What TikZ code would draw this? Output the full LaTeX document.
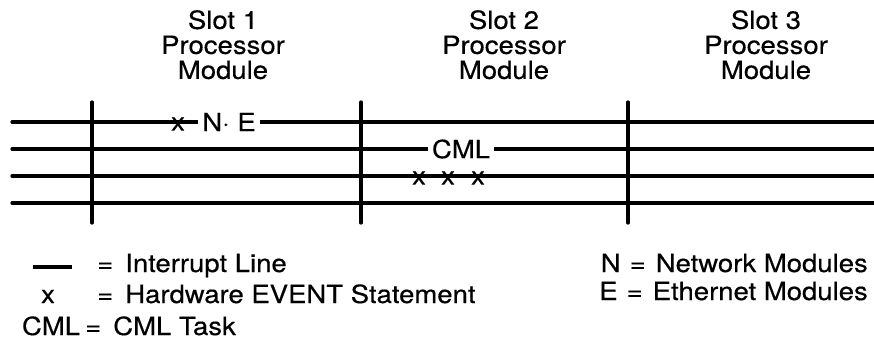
\documentclass[tikz,border=0pt]{standalone}
\usepackage{fontspec}
\setmainfont{TeX Gyre Heros}[FakeStretch=1.1,FakeBold=0.4]
\usetikzlibrary{positioning}
\newcommand{\eqgap}{\hspace{12pt}}

\begin{document}
\begin{tikzpicture}[
  x=1pt,y=-1pt,
  bus/.style={line width=3.2pt,line cap=round},
  slotline/.style={line width=3.2pt,line cap=round},
  title/.style={align=center,inner sep=0pt,anchor=north,font=\fontsize{25}{25}\selectfont},
  tag/.style={fill=white,inner sep=4pt,font=\fontsize{25}{25}\selectfont},
  evt/.style={inner sep=0pt,font=\fontsize{25}{25}\selectfont},
  lbl/.style={inner sep=0pt,anchor=base west,font=\fontsize{25}{25}\selectfont}
]
\useasboundingbox (0,0) rectangle (874,345);
% interrupt lines
\foreach \i/\y in {1/122,2/149,3/176,4/203}{
  \coordinate (w\i) at (12,\y);
  \coordinate (e\i) at (874,\y);
  \draw[bus] (w\i) -- (e\i);
}
% slot boundaries
\foreach \s/\x in {1/92,2/361,3/628}{
  \coordinate (top\s) at (\x,102);
  \coordinate (bot\s) at (\x,223);
  \draw[slotline] (top\s) -- (bot\s);
}
% slot titles
\node[title] (slot1) at (223,10) {Slot 1\\Processor\\Module};
\node[title] (slot2) at (504,10) {Slot 2\\Processor\\Module};
\node[title] (slot3) at (766,10) {Slot 3\\Processor\\Module};
% events on the lines
\node[evt] (ev1) at (178,124) {x};
\node[tag] (ne) at (229,122) {N· E};
\node[tag] (cml) at (461,149) {CML};
\node[evt] (ev2) at (419,178) {x};
\node[evt] (ev3) at (448,178) {x};
\node[evt] (ev4) at (478,178) {x};
% legend
\coordinate (k1) at (33,267);
\coordinate (k2) at (72,267);
\draw[bus,line cap=butt] (k1) -- (k2);
\node[lbl] (leg1) at (97,272) {=\eqgap Interrupt Line};
\node[lbl,anchor=base] (legx) at (48,303) {x};
\node[lbl] (leg2) at (97,303) {=\eqgap Hardware EVENT Statement};
\node[lbl,anchor=base] (legc) at (51,335) {CML};
\node[lbl] (leg3) at (85,335) {=\eqgap CML Task};
\node[lbl,anchor=base east] (leg4) at (868,272) {N\hspace{9pt}=\hspace{10pt}Network Modules};
\node[lbl,anchor=base east] (leg5) at (868,300) {E\hspace{9pt}=\hspace{10pt}Ethernet Modules};
\end{tikzpicture}
\end{document}
